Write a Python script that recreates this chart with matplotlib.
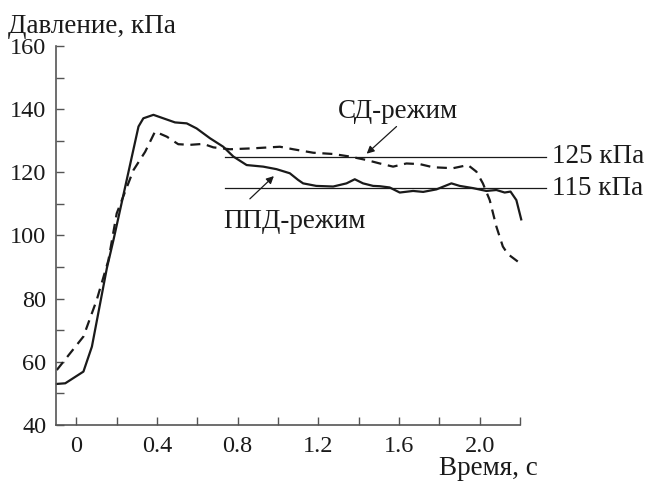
import matplotlib.pyplot as plt
import numpy as np

# ППД-режим (сплошная линия)
t_ppd = [-0.096, -0.054, 0.036, 0.078, 0.152, 0.185, 0.309, 0.333, 0.383, 0.432, 0.49, 0.548,
         0.597, 0.663, 0.729, 0.779, 0.845, 0.927, 0.993, 1.059, 1.1, 1.125, 1.19, 1.274, 1.34,
         1.381, 1.422, 1.472, 1.505, 1.554, 1.604, 1.67, 1.72, 1.786, 1.86, 1.901, 1.967, 2.033,
         2.083, 2.124, 2.153, 2.182, 2.206]
p_ppd = [53.0, 53.2, 56.9, 64.8, 89.6, 98.6, 134.5, 137.1, 138.2, 137.1, 135.8, 135.5,
         133.9, 130.8, 128.1, 125.0, 122.3, 121.8, 121.0, 119.7, 117.6, 116.5, 115.7, 115.5, 116.5,
         117.8, 116.5, 115.7, 115.6, 115.2, 113.6, 114.1, 113.8, 114.6, 116.5, 115.7, 115.0, 114.1,
         114.4, 113.6, 113.9, 111.2, 105.1]

# СД-режим (штриховая линия)
t_sd = [-0.096, -0.03, 0.036, 0.102, 0.16, 0.201, 0.284, 0.342, 0.391, 0.449, 0.506, 0.564,
        0.63, 0.68, 0.762, 0.878, 1.01, 1.076, 1.175, 1.274, 1.356, 1.439, 1.505, 1.571, 1.637,
        1.703, 1.769, 1.868, 1.942, 1.984, 2.016, 2.05, 2.083, 2.115, 2.14, 2.19]
p_sd = [57.4, 62.7, 68.0, 79.6, 92.2, 107.0, 120.7, 126.5, 132.9, 131.3, 128.9, 128.7,
        129.0, 127.9, 127.3, 127.6, 128.1, 127.3, 126.2, 125.8, 125.0, 123.9, 122.8, 121.8, 122.8,
        122.6, 121.6, 121.3, 122.3, 120.2, 116.5, 111.2, 102.8, 96.5, 94.1, 91.7]

levels = [125, 115]
level_labels = ["125 кПа", "115 кПа"]

x_ticks = np.round(np.arange(0, 2.21, 0.2), 1)
x_labels = ["0", "", "0.4", "", "0.8", "", "1.2", "", "1.6", "", "2.0", ""]
y_ticks = np.arange(40, 161, 10)
y_labels = [str(v) if v % 20 == 0 else "" for v in y_ticks]

plt.rcParams["font.family"] = ["Liberation Serif", "DejaVu Serif"]
plt.rcParams["font.size"] = 17.5
big = 19.5

fig = plt.figure(figsize=(6.45, 4.82), dpi=100)
ax = fig.add_axes([0.0868, 0.1183, 0.7194, 0.7863])

col = "#1a1a1a"
ax.plot(t_ppd, p_ppd, color=col, lw=1.6, clip_on=False)
ax.plot(t_sd, p_sd, color=col, lw=1.6, ls=(0, (4.5, 3)), clip_on=False)

for lv, lab in zip(levels, level_labels):
    ax.plot([0.74, 2.33], [lv, lv], color=col, lw=0.9, clip_on=False)
    ax.text(2.36, lv, lab, va="center", ha="left", color=col, fontsize=big)

arrow = dict(arrowstyle="-|>", color=col, lw=0.9, mutation_scale=11, shrinkA=0, shrinkB=0)
ax.text(1.594, 139.1, "СД-режим", ha="center", va="center", color=col, fontsize=big)
ax.annotate("", xy=(1.44, 125.9), xytext=(1.588, 134.5), arrowprops=arrow)
ax.text(1.084, 104.3, "ППД-режим", ha="center", va="center", color=col, fontsize=big)
ax.annotate("", xy=(0.98, 118.8), xytext=(0.861, 111.6), arrowprops=arrow)

ax.set_xlim(-0.1, 2.2)
ax.set_ylim(40, 160)
ax.set_xticks(x_ticks)
ax.set_xticklabels(x_labels)
ax.set_yticks(y_ticks)
ax.set_yticklabels(y_labels)
ax.tick_params(direction="in", length=6, width=1, color="#555555", labelcolor=col)
ax.tick_params(axis="x", pad=8)
ax.tick_params(axis="y", pad=7)
for s in ["top", "right"]:
    ax.spines[s].set_visible(False)
for s in ["left", "bottom"]:
    ax.spines[s].set_color("#555555")
    ax.spines[s].set_linewidth(1.2)

fig.text(8 / 645, 1 - 33 / 482, "Давление, кПа", ha="left", va="baseline", color=col,
         fontsize=big)
fig.text(538 / 645, 1 - 475 / 482, "Время, с", ha="right", va="baseline", color=col,
         fontsize=big)

fig.savefig("out.png", dpi=100)
